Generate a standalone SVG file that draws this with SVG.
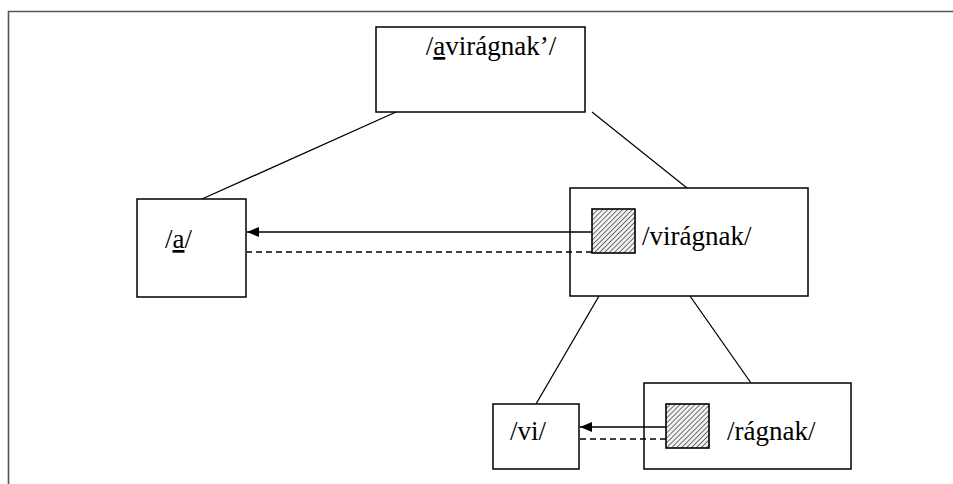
<svg xmlns="http://www.w3.org/2000/svg" width="953" height="484" viewBox="0 0 953 484">
<style>
.box{fill:#fff;stroke:#000;stroke-width:1.5}
text{font-family:"Liberation Serif",serif;font-size:27px;fill:#000}
.edge{stroke:#000;stroke-width:1.3;fill:none}
.dash{stroke:#000;stroke-width:1.3;fill:none;stroke-dasharray:6,4}
.hatch{fill:url(#hatch);stroke:#000;stroke-width:1.6}
</style>
<defs>
<pattern id="hatch" patternUnits="userSpaceOnUse" width="3.5" height="3.5" patternTransform="rotate(45)">
<rect width="3.5" height="3.5" fill="#f2f2f2"/>
<line x1="0" y1="0" x2="0" y2="3.5" stroke="#3a3a3a" stroke-width="1.4"/>
</pattern>
<marker id="arr" markerWidth="12" markerHeight="10" refX="12" refY="5" orient="auto" markerUnits="userSpaceOnUse">
<path d="M0,0 L12,5 L0,10 Z" fill="#000"/>
</marker>
</defs>
<rect width="953" height="484" fill="#fff"/>
<path d="M8.5,484 V11.5 H953" fill="none" stroke="#555" stroke-width="1.6"/>
<g id="connectors">
<line class="edge" x1="396" y1="112" x2="202" y2="199"/>
<line class="edge" x1="592" y1="112" x2="687" y2="188"/>
<line class="edge" x1="599" y1="296" x2="536" y2="404"/>
<line class="edge" x1="690" y1="296" x2="751" y2="383"/>
</g>
<g id="n-avirag">
<rect class="box" x="376" y="27" width="209" height="85"/>
<text x="491" y="55" text-anchor="middle">/<tspan text-decoration="underline">a</tspan>virágnak’/</text>
</g>
<g id="n-a">
<rect class="box" x="137" y="199" width="109" height="98"/>
<text x="165" y="248">/<tspan text-decoration="underline">a</tspan>/</text>
</g>
<g id="n-virag">
<rect class="box" x="570" y="188" width="238" height="108"/>
<rect class="hatch" x="592" y="209" width="43" height="44"/>
<text x="642" y="245">/virágnak/</text>
</g>
<g id="n-vi">
<rect class="box" x="493" y="404" width="86" height="65"/>
<text x="510" y="440">/vi/</text>
</g>
<g id="n-ragnak">
<rect class="box" x="644" y="383" width="207" height="86"/>
<rect class="hatch" x="666" y="404" width="43" height="44"/>
<text x="727" y="440">/rágnak/</text>
</g>
<g id="links">
<line class="edge" x1="592" y1="232" x2="247" y2="232" marker-end="url(#arr)"/>
<line class="dash" x1="592" y1="252" x2="247" y2="252"/>
<line class="edge" x1="666" y1="427" x2="580" y2="427" marker-end="url(#arr)"/>
<line class="dash" x1="666" y1="439" x2="580" y2="439"/>
</g>
</svg>
